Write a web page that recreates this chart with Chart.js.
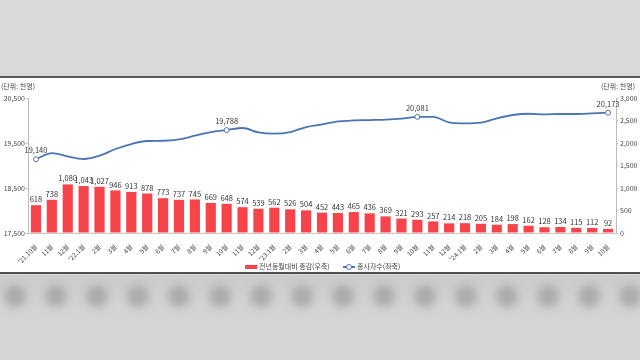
<!DOCTYPE html>
<html>
<head>
<meta charset="utf-8">
<script src="https://cdn.jsdelivr.net/npm/chart.js@4.4.1/dist/chart.umd.min.js"></script>
<style>
  body { margin:0; width:640px; height:360px; overflow:hidden; background:#d8d8d8; font-family:"Noto Sans CJK KR", sans-serif; position:relative; }
  #top { position:absolute; left:0; top:0; width:640px; height:76px; background:#d9d9d9; border-bottom:2px solid #5a5a5a; }
  #panel { position:absolute; left:0; top:78px; width:640px; height:194px; background:#fff; border-bottom:2px solid #4f4f4f; }
  #bottom { position:absolute; left:0; top:275px; width:640px; height:85px; background:linear-gradient(#cbcbcb, #d4d4d4 40%, #d6d6d6); overflow:hidden; }
  #blobs { position:absolute; left:0; top:0; width:640px; height:85px; filter:blur(5px); }
  .blob { position:absolute; top:10px; width:22px; height:22px; border-radius:50%; background:#a9a9a9; }
  #box { position:absolute; left:0; top:0; width:640px; height:194px; }
  .unit { position:absolute; top:3px; font-size:7px; color:#444; white-space:nowrap; }
  .leg { position:absolute; top:183px; font-size:7px; color:#444; white-space:nowrap; }
</style>
</head>
<body>
<div id="top"></div>
<div id="panel">
  <div id="box"><canvas id="myChart"></canvas></div>
  <div class="unit" style="left:1px">(단위: 천명)</div>
  <div class="unit" style="left:601px">(단위: 천명)</div>
  <div class="leg" style="left:245px"><span style="display:inline-block;width:12px;height:4px;background:#f7434a;vertical-align:middle;margin-right:2px"></span>전년동월대비 증감(우축)</div>
  <div class="leg" style="left:343px"><span style="display:inline-block;position:relative;width:12px;height:6px;vertical-align:middle;margin-right:2px"><span style="position:absolute;left:0;top:2px;width:12px;height:1.5px;background:#4a74b5"></span><span style="position:absolute;left:3px;top:0;width:4px;height:4px;border:1px solid #4a74b5;border-radius:50%;background:#fff"></span></span>종사자수(좌축)</div>
</div>
<div id="bottom"><div id="blobs"></div></div>
<script>
const labels = ["'21.10월","11월","12월","'22.1월","2월","3월","4월","5월","6월","7월","8월","9월",
  "10월","11월","12월","'23.1월","2월","3월","4월","5월","6월","7월","8월","9월",
  "10월","11월","12월","'24.1월","2월","3월","4월","5월","6월","7월","8월","9월","10월"];

// 전년동월대비 증감 (right axis)
const change = [618, 738, 1080, 1043, 1027, 946, 913, 878, 773, 737, 745, 669,
  648, 574, 539, 562, 526, 504, 452, 443, 465, 436, 369, 321,
  293, 257, 214, 218, 205, 184, 198, 162, 128, 134, 115, 112, 92];

const workers = [19140, 19277, 19203, 19144, 19218, 19366, 19477, 19544, 19550, 19580, 19662, 19744,
  19788, 19833, 19736, 19707, 19744, 19855, 19913, 19980, 20002, 20010, 20018, 20040,
  20081, 20080, 19958, 19936, 19951, 20047, 20122, 20150, 20136, 20144, 20144, 20158, 20173];

const markIdx = [0, 12, 24, 36];

// blurred backdrop below the panel
const blobs = document.getElementById('blobs');
for (var b = 0; b < 16; b++) {
  var d = document.createElement('div');
  d.className = 'blob';
  d.style.left = (4 + b * 41) + 'px';
  blobs.appendChild(d);
}

function fmt(v){ return v.toLocaleString('en-US'); }

const valueLabels = {
  id: 'valueLabels',
  afterDatasetsDraw(chart){
    const ctx = chart.ctx;
    ctx.save();
    ctx.textAlign = 'center';
    ctx.textBaseline = 'bottom';
    ctx.fillStyle = '#333';
    ctx.font = '7.5px "Noto Sans CJK KR"';
    chart.getDatasetMeta(1).data.forEach(function(el, i){
      ctx.fillText(fmt(change[i]), el.x, el.y - 2);
    });
    chart.getDatasetMeta(0).data.forEach(function(el, i){
      if(markIdx.indexOf(i) >= 0) ctx.fillText(fmt(workers[i]), el.x, el.y - 5);
    });
    ctx.restore();
  }
};

const ctx = document.getElementById('myChart').getContext('2d');
const myChart = new Chart(ctx, {
  data: {
    labels: labels,
    datasets: [
      {
        type: 'line',
        label: '종사자수(좌축)',
        data: workers,
        yAxisID: 'y',
        borderColor: '#4a74b5',
        borderWidth: 1.8,
        cubicInterpolationMode: 'monotone',
        pointRadius: labels.map(function(l, i){ return markIdx.indexOf(i) >= 0 ? 2.5 : 0; }),
        pointBackgroundColor: '#fff',
        pointBorderColor: '#4a74b5',
        pointBorderWidth: 1
      },
      {
        type: 'bar',
        label: '전년동월대비 증감(우축)',
        data: change,
        yAxisID: 'y1',
        backgroundColor: '#f7434a',
        barPercentage: 0.64,
        categoryPercentage: 1
      }
    ]
  },
  options: {
    responsive: true,
    maintainAspectRatio: false,
    animation: false,
    layout: { padding: { top: 20, left: 0, right: 0, bottom: 0 } },
    plugins: { legend: { display: false }, tooltip: { enabled: false } },
    scales: {
      x: {
        grid: { display: false },
        border: { color: '#c8c8c8' },
        ticks: { autoSkip: false, maxRotation: 45, minRotation: 45, padding: 2, color: '#444',
                 font: { size: 6.5, family: '"Noto Sans CJK KR"' } },
        afterFit: function(s){ s.height = 39; }
      },
      y: {
        position: 'left',
        min: 17500, max: 20500,
        ticks: { stepSize: 1000, color: '#444', padding: 1, callback: fmt,
                 font: { size: 7, family: '"Noto Sans CJK KR"' } },
        grid: { drawOnChartArea: false, tickLength: 2, color: '#bbb' },
        border: { color: '#bbb' },
        afterFit: function(s){ s.width = 28; }
      },
      y1: {
        position: 'right',
        min: 0, max: 3000,
        ticks: { stepSize: 500, color: '#444', padding: 2, callback: fmt,
                 font: { size: 7, family: '"Noto Sans CJK KR"' } },
        grid: { drawOnChartArea: false, tickLength: 2, color: '#bbb' },
        border: { color: '#bbb' },
        afterFit: function(s){ s.width = 24; }
      }
    }
  },
  plugins: [valueLabels]
});
</script>
</body>
</html>
